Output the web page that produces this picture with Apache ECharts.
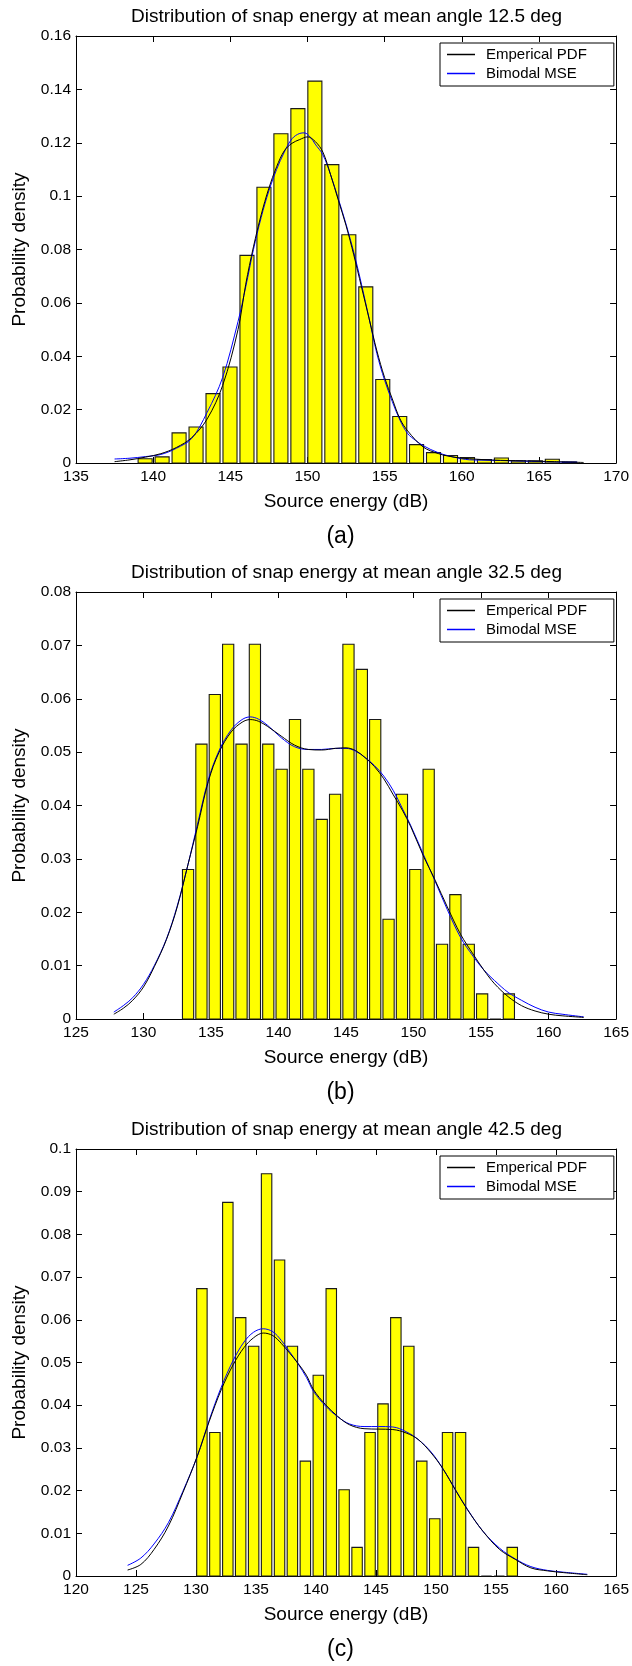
<!DOCTYPE html>
<html>
<head>
<meta charset="utf-8">
<script src="https://cdn.jsdelivr.net/npm/echarts@6/dist/echarts.min.js"></script>
<style>
html, body { margin: 0; padding: 0; background: #fff; }
#chart { width: 632px; height: 1666px; }
</style>
</head>
<body>
<div id="chart"></div>
<script>
// ---- data ----
var titles = ['Distribution of snap energy at mean angle 12.5 deg',
              'Distribution of snap energy at mean angle 32.5 deg',
              'Distribution of snap energy at mean angle 42.5 deg'];
var panelLabels = ['(a)', '(b)', '(c)'];
var seriesNames = ['Emperical PDF', 'Bimodal MSE'];

// tick values
var xTicksA = [135, 140, 145, 150, 155, 160, 165, 170];
var yTicksA = [0, 0.02, 0.04, 0.06, 0.08, 0.1, 0.12, 0.14, 0.16];
var xTicksB = [125, 130, 135, 140, 145, 150, 155, 160, 165];
var yTicksB = [0, 0.01, 0.02, 0.03, 0.04, 0.05, 0.06, 0.07, 0.08];
var xTicksC = [120, 125, 130, 135, 140, 145, 150, 155, 160, 165];
var yTicksC = [0, 0.01, 0.02, 0.03, 0.04, 0.05, 0.06, 0.07, 0.08, 0.09, 0.1];

// (a) histogram
var binsA = [139.48, 140.58, 141.68, 142.78, 143.88, 144.98, 146.08, 147.18, 148.28, 149.38,
             150.48, 151.58, 152.68, 153.78, 154.88, 155.98, 157.07, 158.17, 159.27, 160.37,
             161.47, 162.57, 163.67, 164.77, 165.87, 166.97];
var histA = [0.0016, 0.0023, 0.0113, 0.0135, 0.026, 0.036, 0.0778, 0.1033, 0.1234, 0.1328,
             0.1431, 0.1118, 0.0855, 0.066, 0.0313, 0.0174, 0.0069, 0.0039, 0.0028, 0.002,
             0.0013, 0.0019, 0.0008, 0.0008, 0.0014, 0.0004];
var empXA = [137.5, 138.5, 139.5, 140.5, 141.5, 142.5, 143.5, 144.5, 145.5, 146, 146.5, 147, 147.5, 148, 148.5, 149, 149.5, 150,
             150.5, 151, 151.5, 152, 152.5, 153, 153.5, 154, 154.5, 155, 155.5, 156, 156.5, 157.5, 158.5, 159.5, 160.5, 162, 164, 166, 167.9];
var empYA = [0.0005, 0.0012, 0.0022, 0.0035, 0.0058, 0.0095, 0.0165, 0.029, 0.05, 0.067, 0.081, 0.093, 0.103, 0.111, 0.117, 0.1198, 0.1212, 0.1222,
             0.1205, 0.1165, 0.108, 0.0985, 0.089, 0.078, 0.066, 0.054, 0.042, 0.032, 0.024, 0.0165, 0.012, 0.006, 0.0035, 0.0022, 0.0016, 0.0011, 0.0008, 0.0005, 0.0002];
var mseXA = [137.5, 138.5, 139.5, 140.5, 141.5, 142.5, 143.5, 144.5, 145.5, 146, 146.5, 147, 147.5, 148, 148.5, 149, 149.5, 149.8, 150.2,
             150.5, 151, 151.5, 152, 152.5, 153, 153.5, 154, 154.5, 155, 155.5, 156, 156.5, 157, 157.5, 158.5, 159.5, 160.5, 162, 164, 166, 167.5];
var mseYA = [0.0015, 0.0018, 0.0024, 0.0032, 0.0055, 0.0092, 0.019, 0.032, 0.053, 0.066, 0.08, 0.092, 0.102, 0.11, 0.1165, 0.1215, 0.1235, 0.1237, 0.122,
             0.1195, 0.1155, 0.108, 0.099, 0.0895, 0.079, 0.067, 0.054, 0.041, 0.031, 0.023, 0.016, 0.011, 0.0085, 0.0065, 0.0038, 0.0022, 0.0012, 0.001, 0.0007, 0.0004, 0.0003];

// (b) histogram
var binsB = [133.30, 134.29, 135.28, 136.27, 137.26, 138.25, 139.24, 140.23, 141.22, 142.21,
             143.20, 144.19, 145.18, 146.17, 147.16, 148.15, 149.14, 150.13, 151.12, 152.11,
             153.10, 154.09, 155.08, 156.07, 157.06];
var histB = [0.028, 0.0515, 0.0608, 0.0702, 0.0515, 0.0702, 0.0515, 0.0468, 0.0561, 0.0468,
             0.0374, 0.0421, 0.0702, 0.0655, 0.0561, 0.0187, 0.0421, 0.028, 0.0468, 0.014,
             0.0233, 0.014, 0.0047, 0, 0.0047];
var empXB = [127.8, 128.5, 129.2, 130, 130.8, 131.7, 132.5, 133.3, 134, 134.8, 135.6, 136.5, 137.3, 137.9, 138.5, 139.2, 140.2, 141.2, 142.2,
             143.2, 144.2, 145, 145.7, 146.4, 147.1, 147.8, 148.5, 149.2, 149.8, 150.7, 151.6, 152.5, 153.5, 154.4, 155.2, 156, 157, 158, 159, 160, 161, 162.6];
var empYB = [0.0009, 0.002, 0.0035, 0.006, 0.0098, 0.0149, 0.021, 0.029, 0.036, 0.0445, 0.05, 0.0538, 0.0556, 0.0561, 0.0558, 0.0548, 0.053, 0.0513, 0.0505,
             0.0504, 0.0507, 0.0508, 0.0503, 0.049, 0.0473, 0.045, 0.042, 0.039, 0.036, 0.0307, 0.026, 0.021, 0.0158, 0.0122, 0.0092, 0.0066, 0.0042, 0.0025, 0.0015, 0.0009, 0.0006, 0.0003];
var mseXB = empXB;
var mseYB = [0.0013, 0.0025, 0.004, 0.0065, 0.01, 0.015, 0.0212, 0.029, 0.0365, 0.0448, 0.0503, 0.0542, 0.0561, 0.0566, 0.0562, 0.055, 0.0527, 0.051, 0.0505,
             0.0505, 0.0507, 0.0507, 0.0502, 0.049, 0.0475, 0.0455, 0.0428, 0.0393, 0.0362, 0.031, 0.0258, 0.0205, 0.0152, 0.0118, 0.0092, 0.0072, 0.005, 0.0035, 0.0022, 0.0013, 0.0009, 0.0004];

// (c) histogram
var binsC = [130.49, 131.57, 132.65, 133.72, 134.80, 135.88, 136.96, 138.03, 139.11, 140.19,
             141.27, 142.34, 143.42, 144.50, 145.58, 146.65, 147.73, 148.81, 149.89, 150.96,
             152.04, 153.12, 154.20, 155.27, 156.35];
var histC = [0.0673, 0.0336, 0.0875, 0.0605, 0.0538, 0.0942, 0.074, 0.0538, 0.0269, 0.047,
             0.0673, 0.0202, 0.0067, 0.0336, 0.0403, 0.0605, 0.0538, 0.0269, 0.0134, 0.0336,
             0.0336, 0.0067, 0, 0, 0.0067];
var empXC = [124.3, 125.4, 126.5, 127.7, 128.9, 130.1, 131.1, 132.1, 133.1, 134, 134.8, 135.6, 136.4, 137.1, 137.8, 138.5, 139.2, 139.8, 140.8,
             141.8, 142.8, 144, 145.2, 146.4, 147.5, 148.5, 149.6, 150.6, 151.6, 152.6, 153.9, 155.3, 156.6, 157.9, 159.3, 160.6, 162.6];
var empYC = [0.0014, 0.0027, 0.0062, 0.0117, 0.0195, 0.028, 0.0362, 0.0436, 0.0495, 0.0535, 0.0558, 0.0569, 0.0563, 0.0545, 0.0522, 0.0498, 0.047, 0.0436, 0.0401,
             0.0374, 0.0354, 0.0345, 0.0344, 0.0343, 0.0335, 0.032, 0.0288, 0.025, 0.0202, 0.0156, 0.0105, 0.0062, 0.0039, 0.0019, 0.0012, 0.0008, 0.0003];
var mseXC = empXC;
var mseYC = [0.0025, 0.0042, 0.0075, 0.0125, 0.0198, 0.028, 0.0365, 0.0442, 0.0505, 0.0548, 0.0571, 0.0579, 0.0572, 0.0552, 0.0525, 0.0497, 0.0465, 0.0432, 0.0398,
             0.0373, 0.0356, 0.035, 0.035, 0.0349, 0.0338, 0.032, 0.029, 0.025, 0.0203, 0.0157, 0.0105, 0.0065, 0.004, 0.0022, 0.0013, 0.0009, 0.0004];

// ---- layout / style ----
var FONT = "'Liberation Sans', Arial, Helvetica, sans-serif";
var GRID_LEFT = 76, GRID_W = 541, GRID_H = 427;
var gridTops = [36, 592, 1149];
var barWidths = [0.91, 0.83, 0.87];   // in dB

var panels = [
    {xt: xTicksA, yt: yTicksA, bins: binsA, hist: histA, ex: empXA, ey: empYA, mx: mseXA, my: mseYA},
    {xt: xTicksB, yt: yTicksB, bins: binsB, hist: histB, ex: empXB, ey: empYB, mx: mseXB, my: mseYB},
    {xt: xTicksC, yt: yTicksC, bins: binsC, hist: histC, ex: empXC, ey: empYC, mx: mseXC, my: mseYC}
];

function zip(a, b) {
    var out = [];
    for (var i = 0; i < a.length; i++) out.push([a[i], b[i]]);
    return out;
}

function fmtY(v) {
    return String(+v.toFixed(3));
}

var option = {
    backgroundColor: '#fff',
    animation: false,
    textStyle: {fontFamily: FONT},
    grid: [], xAxis: [], yAxis: [], series: [], legend: [], graphic: []
};

panels.forEach(function(p, i) {
    var top = gridTops[i];
    var xMin = p.xt[0], xMax = p.xt[p.xt.length - 1], xInt = p.xt[1] - p.xt[0];
    var yMin = p.yt[0], yMax = p.yt[p.yt.length - 1], yInt = p.yt[1] - p.yt[0];
    var bw = barWidths[i];

    option.grid.push({left: GRID_LEFT, top: top, width: GRID_W, height: GRID_H, containLabel: false});

    var tick = {show: true, inside: true, length: 6, lineStyle: {color: '#000', width: 1}};
    var line = {show: true, onZero: false, lineStyle: {color: '#000', width: 1}};

    option.xAxis.push({
        gridIndex: i, type: 'value', position: 'bottom', min: xMin, max: xMax, interval: xInt,
        axisLine: line, axisTick: tick, splitLine: {show: false},
        axisLabel: {color: '#000', fontSize: 15.5, fontFamily: FONT, margin: 6},
        name: 'Source energy (dB)', nameLocation: 'middle', nameGap: 29,
        nameTextStyle: {color: '#000', fontSize: 19, fontFamily: FONT}
    });
    option.xAxis.push({
        gridIndex: i, type: 'value', position: 'top', min: xMin, max: xMax, interval: xInt,
        axisLine: line, axisTick: tick, splitLine: {show: false}, axisLabel: {show: false}
    });
    option.yAxis.push({
        gridIndex: i, type: 'value', position: 'left', min: yMin, max: yMax, interval: yInt,
        axisLine: line, axisTick: tick, splitLine: {show: false},
        axisLabel: {color: '#000', fontSize: 15.5, fontFamily: FONT, margin: 5, formatter: fmtY},
        name: 'Probability density', nameLocation: 'middle', nameGap: 47,
        nameTextStyle: {color: '#000', fontSize: 19, fontFamily: FONT}
    });
    option.yAxis.push({
        gridIndex: i, type: 'value', position: 'right', min: yMin, max: yMax, interval: yInt,
        axisLine: line, axisTick: tick, splitLine: {show: false}, axisLabel: {show: false}
    });

    option.series.push({
        type: 'custom',
        xAxisIndex: i * 2, yAxisIndex: i * 2,
        encode: {x: 0, y: 1},
        data: zip(p.bins, p.hist),
        renderItem: function(params, api) {
            var x = api.value(0), y = api.value(1);
            var p0 = api.coord([x - bw / 2, y]);
            var p1 = api.coord([x + bw / 2, 0]);
            return {
                type: 'rect',
                shape: {x: p0[0], y: p0[1], width: p1[0] - p0[0], height: p1[1] - p0[1]},
                style: {fill: '#ffff00', stroke: '#1a1a1a', lineWidth: 1.1}
            };
        },
        z: 2
    });
    option.series.push({
        name: seriesNames[1], type: 'line', xAxisIndex: i * 2, yAxisIndex: i * 2,
        data: zip(p.mx, p.my), symbol: 'none', smooth: 0.35, color: '#0000ff',
        lineStyle: {color: '#0000ff', width: 1}, z: 3
    });
    option.series.push({
        name: seriesNames[0], type: 'line', xAxisIndex: i * 2, yAxisIndex: i * 2,
        data: zip(p.ex, p.ey), symbol: 'none', smooth: 0.35, color: '#000',
        lineStyle: {color: '#000', width: 1}, z: 4
    });

    option.legend.push({
        data: seriesNames, orient: 'vertical', left: 440, top: top + 7,
        icon: 'rect', itemWidth: 28, itemHeight: 1.5, itemGap: 4,
        selectedMode: false,
        backgroundColor: '#fff', borderColor: '#000', borderWidth: 1,
        padding: [4, 27, 5, 7],
        textStyle: {color: '#000', fontSize: 15, fontFamily: FONT, padding: [0, 0, 0, 6]}
    });

    option.graphic.push({
        type: 'text', x: GRID_LEFT + GRID_W / 2, y: top - 19,
        style: {text: titles[i], fill: '#000', font: '19px ' + FONT, textAlign: 'center', textVerticalAlign: 'middle'}
    });
    option.graphic.push({
        type: 'text', x: GRID_LEFT + GRID_W / 2 - 6, y: top + GRID_H + 74,
        style: {text: panelLabels[i], fill: '#000', font: '23px ' + FONT, textAlign: 'center', textVerticalAlign: 'middle'}
    });
});

var chart = echarts.init(document.getElementById('chart'), null, {renderer: 'canvas'});
chart.setOption(option);
</script>
</body>
</html>
